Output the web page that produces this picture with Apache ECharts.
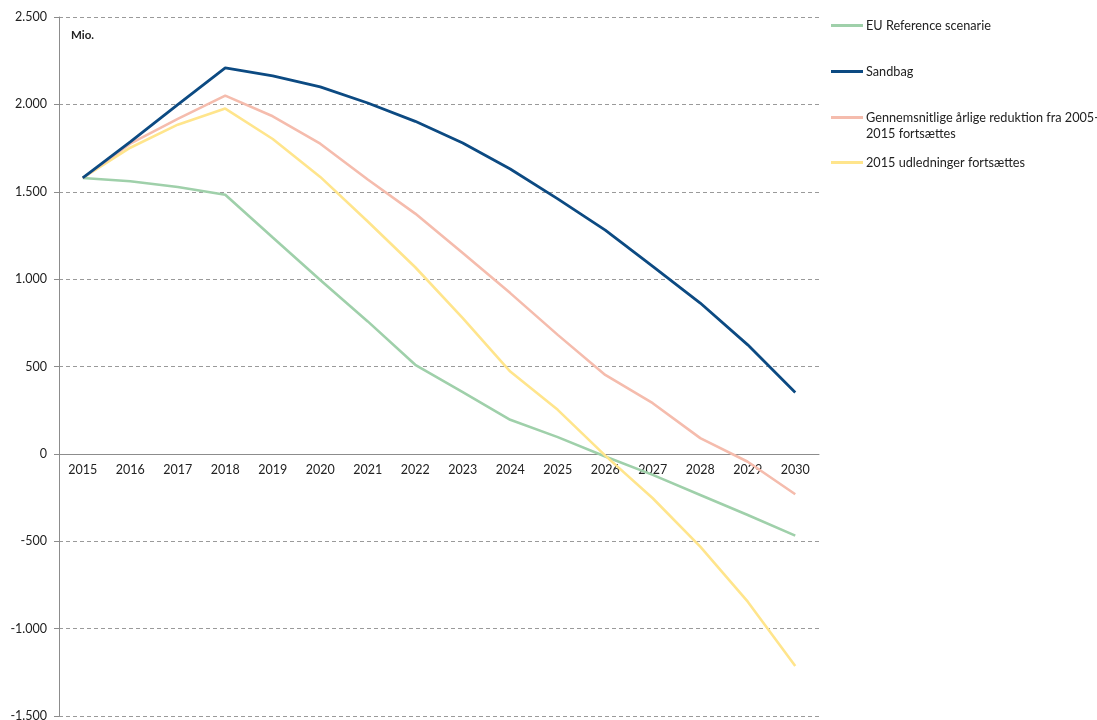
<!DOCTYPE html>
<html>
<head>
<meta charset="utf-8">
<script src="https://cdn.jsdelivr.net/npm/echarts@6/dist/echarts.min.js"></script>
<style>
  html, body { margin: 0; padding: 0; background: #fff; }
  #chart { width: 1097px; height: 720px; }
</style>
</head>
<body>
<div id="chart"></div>
<script>
// Years on the category axis
const years = ['2015','2016','2017','2018','2019','2020','2021','2022','2023','2024','2025','2026','2027','2028','2029','2030'];

// Scenario series (Mio.)
const euReference = [1579, 1560, 1527, 1483, 1238, 995, 758, 510, 353, 195, 96, -15, -120, -235, -350, -468];
const sandbag     = [1579, 1785, 1998, 2209, 2163, 2100, 2008, 1903, 1779, 1630, 1459, 1280, 1073, 863, 624, 351];
const avgReduction = [1579, 1775, 1917, 2050, 1932, 1775, 1570, 1375, 1150, 920, 681, 452, 290, 90, -45, -231];
const flat2015    = [1579, 1752, 1884, 1976, 1802, 1585, 1330, 1068, 777, 471, 252, -10, -254, -531, -846, -1214];

// Value axis range
const yMin = -1500, yMax = 2500, yStep = 500;

const names = ['EU Reference scenarie', 'Sandbag', 'Gennemsnitlige årlige reduktion fra 2005-', '2015 udledninger fortsættes'];
const colors = ['#9fd0aa', '#0c4a82', '#f5bcad', '#ffe58c'];
const values = [euReference, sandbag, avgReduction, flat2015];

const FONT = 'Lato, "Open Sans", sans-serif';
const W = 1097, H = 720;
const GRID = { left: 59, right: 278, top: 17, bottom: 4 };

function fmt(v) {
  const s = Math.abs(v).toString().replace(/\B(?=(\d{3})+(?!\d))/g, '.');
  return (v < 0 ? '-' : '') + s;
}

// The category axis sits on the zero line: shift it up from the grid bottom
const plotH = H - GRID.top - GRID.bottom;
const zeroOffset = -plotH * (0 - yMin) / (yMax - yMin);

const legendTops = [19, 65, 111, 156];
const legends = names.map((n, i) => ({
  data: [n],
  left: 831,
  top: legendTops[i],
  padding: 0,
  icon: 'rect',
  itemWidth: 32,
  itemHeight: 3,
  itemGap: 3,
  selectedMode: false,
  textStyle: { fontFamily: FONT, fontSize: 12.7, color: '#222', padding: [0, 0, 0, -2] }
}));

const chart = echarts.init(document.getElementById('chart'), null, { renderer: 'canvas' });
chart.setOption({
  animation: false,
  title: {
    text: 'Mio.',
    left: 66,
    top: 24,
    textStyle: { fontFamily: FONT, fontSize: 11.5, fontWeight: 'bold', color: '#222' }
  },
  legend: legends,
  graphic: [{
    type: 'text',
    left: 866,
    top: 127,
    style: { text: '2015 fortsættes', font: '12.7px ' + FONT, fill: '#222' }
  }],
  grid: Object.assign({ containLabel: false, outerBoundsMode: 'none' }, GRID),
  xAxis: {
    type: 'category',
    data: years,
    boundaryGap: true,
    offset: zeroOffset,
    axisLine: { onZero: false, lineStyle: { color: '#8c8c8c', width: 1 } },
    axisTick: { show: false },
    axisLabel: { fontFamily: FONT, fontSize: 12.5, color: '#222', margin: 10 },
    splitLine: { show: false }
  },
  yAxis: {
    type: 'value',
    min: yMin,
    max: yMax,
    interval: yStep,
    axisLine: { show: true, lineStyle: { color: '#8c8c8c', width: 1 } },
    axisTick: { show: true, length: 5, lineStyle: { color: '#8c8c8c' } },
    axisLabel: { fontFamily: FONT, fontSize: 12.5, color: '#222', margin: 12, formatter: fmt },
    splitLine: { show: true, lineStyle: { color: '#9a9a9a', type: [4, 3], width: 1 } }
  },
  series: names.map((n, i) => ({
    name: n,
    type: 'line',
    data: values[i],
    symbol: 'none',
    color: colors[i],
    lineStyle: { width: i === 1 ? 2.8 : 2.6, color: colors[i] },
    z: [2, 5, 4, 3][i]
  }))
});
</script>
</body>
</html>
